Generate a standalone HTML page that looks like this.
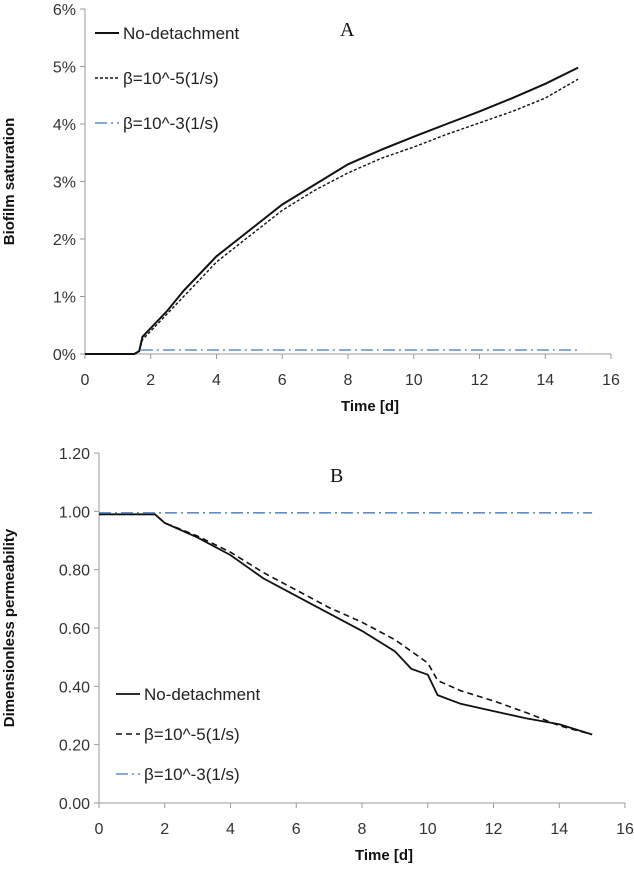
<!DOCTYPE html>
<html><head><meta charset="utf-8"><style>
body{margin:0;background:#fff;}
svg{display:block;font-family:"Liberation Sans",sans-serif;}
</style></head><body>
<svg id="c" width="634" height="872"></svg>
<script>
const xTicks=[0,2,4,6,8,10,12,14,16];
const aTicks=[0,1,2,3,4,5,6];
const bTicks=[0,0.2,0.4,0.6,0.8,1.0,1.2];
const aTime=[0,1.5,1.65,1.75,2,2.5,3,3.5,4,5,6,7,8,9,10,11,12,13,14,15];
const aNoDet=[0,0,0.05,0.3,0.45,0.75,1.1,1.4,1.7,2.15,2.6,2.95,3.3,3.55,3.78,4.0,4.22,4.45,4.7,4.98];
const aBeta5=[0,0,0.05,0.25,0.4,0.7,1.0,1.3,1.6,2.05,2.5,2.85,3.15,3.4,3.6,3.82,4.02,4.22,4.45,4.78];
const aBeta3T=[1.7,15];
const aBeta3=[0.07,0.07];
const bTime=[0,1,1.7,2,3,4,5,6,7,8,9,9.5,10,10.3,11,12,13,14,15];
const bNoDet=[0.99,0.99,0.99,0.96,0.91,0.85,0.77,0.71,0.65,0.59,0.52,0.46,0.44,0.37,0.34,0.315,0.29,0.27,0.235];
const bBeta5=[0.99,0.99,0.99,0.96,0.915,0.86,0.79,0.73,0.67,0.62,0.56,0.52,0.48,0.42,0.385,0.35,0.31,0.265,0.235];
const bBeta3T=[0,15];
const bBeta3=[0.995,0.995];
const NS="http://www.w3.org/2000/svg";
const svg=document.getElementById('c');
function el(t,a,txt){const e=document.createElementNS(NS,t);for(const k in a)e.setAttribute(k,a[k]);if(txt!==undefined)e.textContent=txt;svg.appendChild(e);return e;}
function chart(p){
  const sx=v=>p.x0+(p.x1-p.x0)*v/16;
  const sy=v=>p.y0-(p.y0-p.y1)*v/p.ymax;
  let e=el('line',{x1:sx(0),x2:sx(16),y1:p.y0,y2:p.y0,stroke:'#999','stroke-width':1});
  
  e=el('line',{x1:sx(0),x2:sx(0),y1:p.y0,y2:p.y1,stroke:'#999','stroke-width':1});
  
  xTicks.forEach(t=>{
    el('line',{x1:sx(t),x2:sx(t),y1:p.y0,y2:p.y0+5,stroke:'#999'});
    e=el('text',{x:sx(t),y:p.y0+31,'text-anchor':'middle','font-size':16,fill:'#333'},String(t));
    
  });
  p.yt.forEach(t=>{
    el('line',{x1:sx(0)-5,x2:sx(0),y1:sy(t),y2:sy(t),stroke:'#999'});
    e=el('text',{x:sx(0)-9,y:sy(t)+6,'text-anchor':'end','font-size':16,fill:'#333'},p.fmt(t));
    
  });
  e=el('text',{x:(sx(0)+sx(16))/2+22,y:p.y0+57,'text-anchor':'middle','font-size':15,'font-weight':'bold',fill:'#111'},'Time [d]');
  
  const cy=(p.y0+p.y1)/2;
  e=el('text',{x:0,y:0,transform:`translate(${p.ytx},${cy}) rotate(-90)`,'text-anchor':'middle','font-size':15,'font-weight':'bold',fill:'#111'},p.ytitle);
  
  e=el('text',{x:p.lx,y:p.ly,'font-size':20,'font-family':'Liberation Serif',fill:'#111'},p.letter);
  
  const path=(xs,ys)=>xs.map((x,i)=>(i?'L':'M')+sx(x).toFixed(1)+','+sy(ys[i]).toFixed(1)).join('');
  p.series.forEach(s=>{
    e=el('path',{d:path(s.x,s.y),fill:'none',stroke:s.c,'stroke-width':s.w,'stroke-dasharray':s.d});
    
  });
  p.series.forEach((s,i)=>{
    const y=p.legY+i*p.legDy;
    el('line',{x1:p.legX,x2:p.legX+24,y1:y,y2:y,stroke:s.c,'stroke-width':s.w,'stroke-dasharray':s.d});
    e=el('text',{x:p.legX+28,y:y+6,'font-size':17,fill:'#222'},s.label);
    
  });
}
chart({id:'chart-a',x0:85,x1:611,y0:354,y1:9,ymax:6,yt:aTicks,fmt:t=>t+'%',ytitle:'Biofilm saturation',ytx:14,lx:340,ly:36,letter:'A',legX:95,legY:33,legDy:45,
 series:[{name:'a-no-detachment-line',label:'No-detachment',x:aTime,y:aNoDet,c:'#111',w:2,d:''},
 {name:'a-beta-1e-5-line',label:'β=10^-5(1/s)',x:aTime,y:aBeta5,c:'#111',w:1.4,d:'3,2'},
 {name:'a-beta-1e-3-line',label:'β=10^-3(1/s)',x:aBeta3T,y:aBeta3,c:'#5b8fc7',w:1.6,d:'12,4,2,4'}]});
chart({id:'chart-b',x0:99,x1:625,y0:803,y1:453,ymax:1.2,yt:bTicks,fmt:t=>t.toFixed(2),ytitle:'Dimensionless permeability',ytx:14,lx:330,ly:482,letter:'B',legX:116,legY:694,legDy:40,
 series:[{name:'b-no-detachment-line',label:'No-detachment',x:bTime,y:bNoDet,c:'#111',w:1.8,d:''},
 {name:'b-beta-1e-5-line',label:'β=10^-5(1/s)',x:bTime,y:bBeta5,c:'#111',w:1.6,d:'6,4'},
 {name:'b-beta-1e-3-line',label:'β=10^-3(1/s)',x:bBeta3T,y:bBeta3,c:'#5b8fc7',w:1.6,d:'12,4,2,4'}]});
</script>
</body></html>
